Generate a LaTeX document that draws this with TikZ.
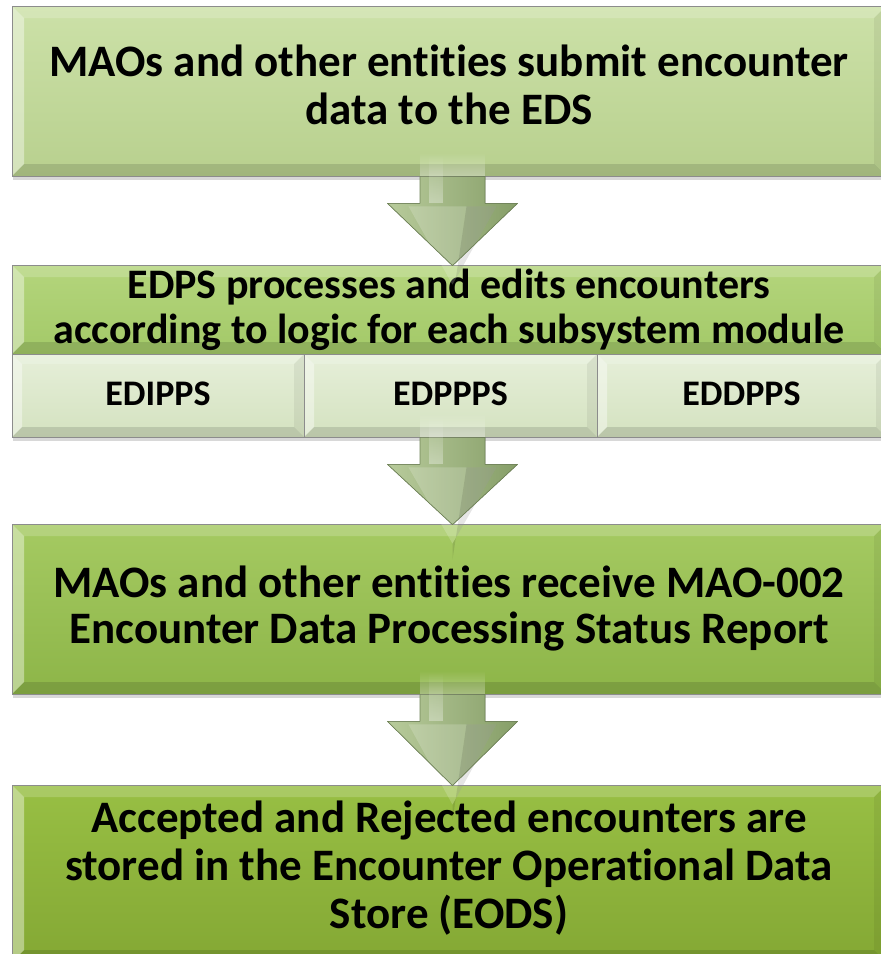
\documentclass[tikz,border=0pt]{standalone}
\usepackage{fontspec}
\setmainfont{Carlito}[RawFeature={-liga}]
\usetikzlibrary{calc,shadows,fadings}
\definecolor{gAt}{RGB}{204,225,168}
\definecolor{gAb}{RGB}{184,208,142}
\definecolor{gBt}{RGB}{180,213,124}
\definecolor{gBb}{RGB}{163,201,104}
\definecolor{gSt}{RGB}{230,239,217}
\definecolor{gSb}{RGB}{212,226,192}
\definecolor{gCt}{RGB}{165,202,98}
\definecolor{gCb}{RGB}{141,181,72}
\definecolor{gDt}{RGB}{152,191,68}
\definecolor{gDb}{RGB}{132,168,52}
\definecolor{arL}{RGB}{184,203,155}
\definecolor{arM}{RGB}{162,185,130}
\definecolor{arR}{RGB}{134,158,104}
\definecolor{arLine}{RGB}{112,132,88}
\tikzset{
  bevel/.style={path picture={
    \fill[white,opacity=.40] (path picture bounding box.north west) -- (path picture bounding box.south west)
      -- ([shift={(#1,#1)}]path picture bounding box.south west) -- ([shift={(#1,-#1)}]path picture bounding box.north west) -- cycle;
    \fill[white,opacity=.18] (path picture bounding box.north west) -- (path picture bounding box.north east)
      -- ([shift={(-#1,-#1)}]path picture bounding box.north east) -- ([shift={(#1,-#1)}]path picture bounding box.north west) -- cycle;
    \fill[black,opacity=.06] (path picture bounding box.north east) -- (path picture bounding box.south east)
      -- ([shift={(-#1,#1)}]path picture bounding box.south east) -- ([shift={(-#1,-#1)}]path picture bounding box.north east) -- cycle;
    \fill[black,opacity=.12] (path picture bounding box.south west) -- (path picture bounding box.south east)
      -- ([shift={(-#1,#1)}]path picture bounding box.south east) -- ([shift={(#1,#1)}]path picture bounding box.south west) -- cycle;
  }},
  bevel/.default=12pt,
  boxbase/.style={draw=black!45, line width=0.7pt, inner sep=0pt,
    drop shadow={shadow xshift=1pt, shadow yshift=-4pt, opacity=.3}},
  mainbox/.style={boxbase, bevel, minimum width=874pt},
  subbox/.style={boxbase, bevel=10pt, top color=gSt, bottom color=gSb, minimum height=83pt},
  lbl/.style={align=center, inner sep=0pt, text=black},
  bigtxt/.style={lbl, font=\bfseries\fontsize{45}{#1}\selectfont},
  bigtxt/.default=46,
  arrowbody/.style={left color=arL, middle color=arM, right color=arR},
  arrowedge/.style={draw=arLine, line width=0.7pt, line join=round},
}
\newcommand{\greenarrow}[2]{%
  \fill[white, opacity=.35, path fading=north] let \p1=(#1.south -| ax) in
    (\x1-32.5pt,\y1+24pt) rectangle (\x1+32.5pt,\y1);
  \fill[arrowbody] let \p1=(#1.south -| ax), \p2=(#2.north -| ax) in
    (\x1-32.5pt,\y1) -- (\x1-32.5pt,\y1-27pt) -- (\x1-65pt,\y1-27pt) -- (\x1,\y2-1pt)
    -- (\x1+65pt,\y1-27pt) -- (\x1+32.5pt,\y1-27pt) -- (\x1+32.5pt,\y1) -- cycle;
  \fill[white,opacity=.35, path fading=north] let \p1=(#1.south -| ax) in
    (\x1-24pt,\y1+22pt) rectangle (\x1-10pt,\y1-27pt);
  \fill[white,opacity=.18] let \p1=(#1.south -| ax), \p2=(#2.north -| ax) in
    (\x1-44pt,\y1-30pt) -- (\x1+44pt,\y1-30pt) -- (\x1,\y2-20pt) -- cycle;
  \fill[black,opacity=.10] let \p1=(#1.south -| ax), \p2=(#2.north -| ax) in
    (\x1+14pt,\y1-30pt) -- (\x1+44pt,\y1-30pt) -- (\x1,\y2-20pt) -- (\x1,\y2-36pt) -- cycle;
  \draw[arrowedge] let \p1=(#1.south -| ax), \p2=(#2.north -| ax) in
    (\x1-32.5pt,\y1) -- (\x1-32.5pt,\y1-27pt) -- (\x1-65pt,\y1-27pt) -- (\x1,\y2-1pt)
    -- (\x1+65pt,\y1-27pt) -- (\x1+32.5pt,\y1-27pt) -- (\x1+32.5pt,\y1);
}
\begin{document}
\begin{tikzpicture}[x=1pt,y=-1pt]
\clip (0,0) rectangle (881,954);
\fill[white] (0,0) rectangle (881,954);
\coordinate (ax) at (452.5,0);

% box 1
\node[mainbox, top color=gAt, bottom color=gAb, minimum height=170pt] (b1) at (449,91) {};
\node[bigtxt=48] (t1) at ([yshift=6pt]b1.center) {MAOs and other entities submit encounter\\data to the EDS};

% box 2 with sub-modules
\node[mainbox, top color=gBt, bottom color=gBb, minimum height=89pt] (b2) at (449,309.5) {};
\node[lbl, font=\bfseries\fontsize{42}{45}\selectfont] (t2) at (b2.center) {EDPS processes and edits encounters\\according to logic for each subsystem module};
\node[subbox, minimum width=292pt] (s1) at (158,395.5) {};
\node[subbox, minimum width=293pt] (s2) at (450.5,395.5) {};
\node[subbox, minimum width=289pt] (s3) at (741.5,395.5) {};
\node[lbl, font=\bfseries\fontsize{36}{40}\selectfont] (u1) at ([yshift=2pt]s1.center) {EDIPPS};
\node[lbl, font=\bfseries\fontsize{36}{40}\selectfont] (u2) at ([yshift=2pt]s2.center) {EDPPPS};
\node[lbl, font=\bfseries\fontsize{36}{40}\selectfont] (u3) at ([yshift=2pt]s3.center) {EDDPPS};

% box 3
\node[mainbox, top color=gCt, bottom color=gCb, minimum height=170pt] (b3) at (449,609) {};
\node[bigtxt=46] (t3) at (b3.center) {MAOs and other entities receive MAO-002\\Encounter Data Processing Status Report};

% box 4
\node[mainbox, top color=gDt, bottom color=gDb, minimum height=177pt] (b4) at (449,873.5) {};
\node[bigtxt=48] (t4) at ([yshift=5pt]b4.center) {Accepted and Rejected encounters are\\stored in the Encounter Operational Data\\Store (EODS)};

% connectors
\greenarrow{b1}{b2}
\greenarrow{s2}{b3}
\greenarrow{b3}{b4}
\end{tikzpicture}
\end{document}
